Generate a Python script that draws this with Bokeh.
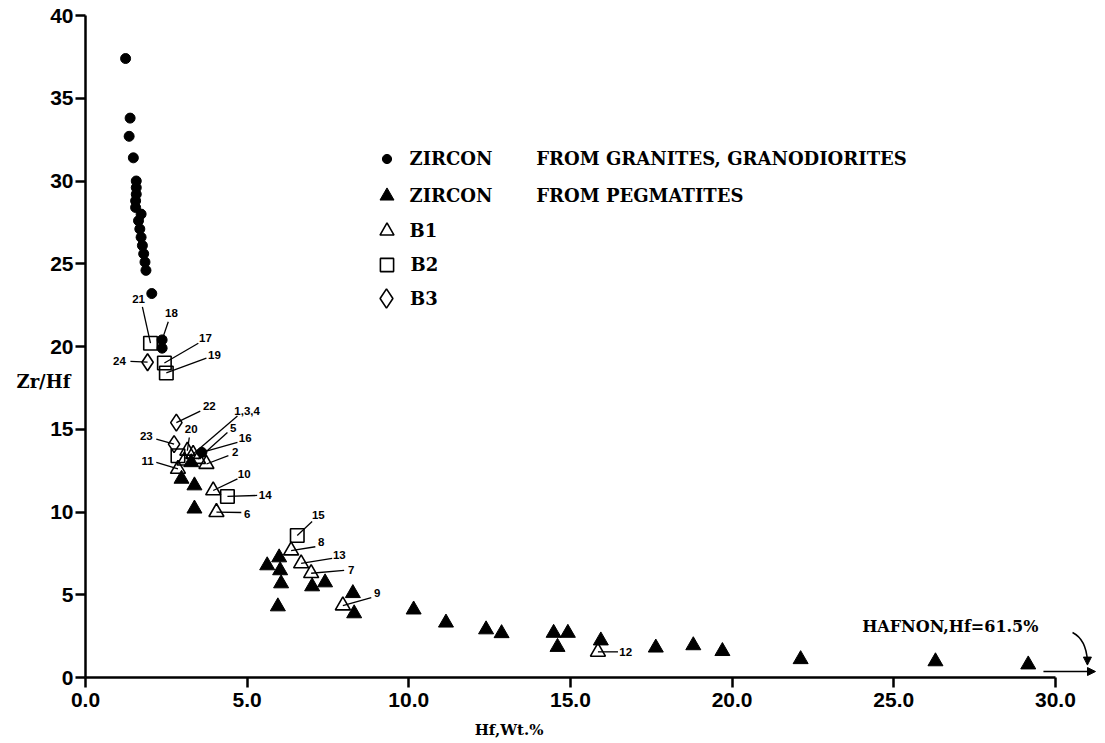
from bokeh.plotting import figure
from bokeh.models import (Range1d, FixedTicker, Label, Legend, LegendItem, Arrow, NormalHead)
from bokeh.core.properties import value
from bokeh.embed import file_html
from bokeh.resources import INLINE

# ---------------- data ----------------
# zircon from granites, granodiorites (filled circles)
gran_hf = [1.24, 1.38, 1.35, 1.48, 1.57, 1.57, 1.57, 1.55, 1.55, 1.72, 1.64, 1.68, 1.72,
           1.76, 1.80, 1.84, 1.87, 2.05, 2.37, 2.37, 3.60]
gran_zrhf = [37.4, 33.8, 32.7, 31.4, 30.0, 29.6, 29.2, 28.8, 28.4, 28.0, 27.6, 27.1, 26.6,
             26.1, 25.6, 25.1, 24.6, 23.2, 20.4, 19.9, 13.6]
gran_id = ["", "", "", "", "", "", "", "", "", "", "", "", "", "", "", "", "", "", "18", "", "16"]

# zircon from pegmatites (filled triangles)
peg_hf = [2.97, 3.37, 3.37, 3.27, 5.99, 5.62, 6.02, 6.05, 5.95, 7.01, 7.41, 8.27, 8.31,
          10.15, 11.15, 12.39, 12.87, 14.48, 14.92, 14.60, 15.94, 17.64, 18.80, 19.70,
          22.12, 26.29, 29.16]
peg_zrhf = [12.0, 11.6, 10.2, 13.0, 7.25, 6.77, 6.47, 5.68, 4.29, 5.50, 5.74, 5.09, 3.87,
            4.10, 3.31, 2.90, 2.67, 2.69, 2.69, 1.84, 2.23, 1.80, 1.94, 1.59,
            1.10, 0.97, 0.78]

# B1 (open triangles)
b1_id = ["1,3,4", "2", "5", "6", "7", "8", "9", "10", "11", "12", "13", "20", ""]
b1_hf = [3.33, 3.74, 3.48, 4.05, 6.98, 6.36, 7.96, 3.95, 2.86, 15.85, 6.67, 3.15, 3.06]
b1_zrhf = [13.5, 12.9, 13.2, 9.99, 6.30, 7.67, 4.35, 11.3, 12.6, 1.55, 6.89, 13.7, 13.1]

# B2 (open squares)
b2_id = ["14", "15", "17", "19", "21", ""]
b2_hf = [4.39, 6.55, 2.44, 2.50, 2.01, 2.86]
b2_zrhf = [10.94, 8.58, 19.0, 18.4, 20.2, 13.4]

# B3 (open diamonds)
b3_id = ["22", "23", "24"]
b3_hf = [2.81, 2.74, 1.92]
b3_zrhf = [15.4, 14.1, 19.05]

# sample number labels: text position and leader start
lab_text = ["18", "21", "17", "19", "24", "22", "1,3,4", "5", "16", "2", "20", "23", "11",
            "10", "14", "6", "15", "8", "13", "7", "9", "12"]
lab_x = [2.66, 1.64, 3.71, 3.99, 1.05, 3.83, 5.00, 4.57, 4.94, 4.63, 3.27, 1.88, 1.92,
         4.91, 5.56, 5.00, 7.20, 7.29, 7.85, 8.22, 9.02, 16.71]
lab_y = [22.0, 22.9, 20.5, 19.5, 19.15, 16.4, 16.1, 15.1, 14.5, 13.65, 15.0, 14.6, 13.1,
         12.3, 11.0, 9.9, 9.8, 8.2, 7.4, 6.5, 5.1, 1.55]
lead_x = [2.56, 1.76, 3.49, 3.74, 1.39, 3.55, 4.70, 4.39, 4.70, 4.42, 3.21, 2.19, 2.19,
          4.70, 5.31, 4.82, 7.01, 7.11, 7.63, 8.00, 8.84, 16.47]
lead_y = [21.5, 22.4, 20.2, 19.3, 19.1, 16.1, 15.8, 14.8, 14.2, 13.4, 14.5, 14.4, 13.0,
          12.0, 11.0, 9.97, 9.43, 7.9, 7.2, 6.47, 4.83, 1.55]

NB = "\u00a0"
legend_labels = ["ZIRCON" + NB * 7 + "FROM GRANITES, GRANODIORITES",
                 "ZIRCON" + NB * 7 + "FROM PEGMATITES",
                 "B1", "B2", "B3"]

x_ticks = [0, 5, 10, 15, 20, 25, 30]
x_tick_labels = ["0.0", "5.0", "10.0", "15.0", "20.0", "25.0", "30.0"]
y_ticks = [0, 5, 10, 15, 20, 25, 30, 35, 40]
y_tick_labels = ["0", "5", "10", "15", "20", "25", "30", "35", "40"]

x_title = "Hf,Wt.%"
y_title = "Zr/Hf"
hafnon_text = "HAFNON,Hf=61.5%"
hafnon_pos = [26.75, 3.1]
curve_arrow = [30.53, 2.72, 30.95, 2.3, 30.99, 1.0]   # x0, y0, cx, cy, x1, y1
flat_arrow = [29.63, 0.36, 31.24, 0.36]               # x0, y0, x1, y1

# ---------------- layout ----------------
W, H = 1100, 740
OX, OY = 85, 677          # pixel position of the data origin
SX, SY = 32.33, 16.55     # pixels per data unit
p = figure(width=W, height=H,
           x_range=Range1d(-OX / SX, (W - OX) / SX),
           y_range=Range1d(-(H - OY) / SY, OY / SY),
           output_backend="svg", toolbar_location=None, min_border=0)
p.grid.visible = False
p.outline_line_color = None
p.background_fill_color = "white"
p.border_fill_color = "white"

for ax, ticks, labels, bounds in ((p.xaxis, x_ticks, x_tick_labels, (0, 30)),
                                  (p.yaxis, y_ticks, y_tick_labels, (0, 40))):
    ax.fixed_location = 0
    ax.ticker = FixedTicker(ticks=ticks)
    ax.major_label_overrides = {t: l for t, l in zip(ticks, labels)}
    ax.bounds = bounds
    ax.axis_line_width = 2.5
    ax.axis_line_color = "black"
    ax.major_tick_line_width = 2.5
    ax.major_tick_line_color = "black"
    ax.major_tick_out = 10
    ax.major_tick_in = 0
    ax.minor_tick_line_color = None
    ax.major_label_text_font = "Liberation Sans"
    ax.major_label_text_font_style = "bold"
    ax.major_label_text_font_size = "21px"
    ax.major_label_text_color = "black"
p.xaxis.major_label_standoff = 5
p.yaxis.major_label_standoff = 2

# leader lines from labels to samples
pts = {}
for ids, xs, ys in ((gran_id, gran_hf, gran_zrhf), (b1_id, b1_hf, b1_zrhf),
                    (b2_id, b2_hf, b2_zrhf), (b3_id, b3_hf, b3_zrhf)):
    for i, x, y in zip(ids, xs, ys):
        if i:
            pts[i] = (x, y)
tx = [pts[t][0] for t in lab_text]
ty = [pts[t][1] for t in lab_text]
p.segment(x0=lead_x, y0=lead_y, x1=tx, y1=ty, line_color="black", line_width=1.3)

r_gran = p.scatter(gran_hf, gran_zrhf, marker="circle", size=10, fill_color="black", line_color="black")
r_peg = p.scatter(peg_hf, peg_zrhf, marker="triangle", size=15, fill_color="black", line_color="black")
r_b1 = p.scatter(b1_hf, b1_zrhf, marker="triangle", size=15, fill_color=None, line_color="black", line_width=1.6)
r_b2 = p.scatter(b2_hf, b2_zrhf, marker="square", size=13.5, fill_color=None, line_color="black", line_width=1.6)
r_b3 = p.scatter(b3_hf, b3_zrhf, marker="diamond", size=17, fill_color=None, line_color="black", line_width=1.6)

p.text(x=lab_x, y=lab_y, text=lab_text, text_align="center", text_baseline="middle",
       text_font=value("Liberation Sans"), text_font_style="bold", text_font_size="11.5px",
       text_color="black")

# legend: one block per entry so each symbol keeps its own size
rows_y = [158, 195, 230, 264, 298]
glyph_box = [23, 35, 35, 33, 48]
for rend, lab, yc, G in zip([r_gran, r_peg, r_b1, r_b2, r_b3], legend_labels, rows_y, glyph_box):
    leg = Legend(items=[LegendItem(label=lab, renderers=[rend])],
                 location=(386 - G / 2, H - (yc + G / 2)),
                 glyph_width=G, glyph_height=G, label_standoff=max(0, round(24 - G / 2)),
                 label_height=1, padding=0, margin=0, spacing=0,
                 border_line_color=None, background_fill_alpha=0,
                 label_text_font="DejaVu Serif", label_text_font_style="bold",
                 label_text_font_size="18px", label_text_color="black")
    p.add_layout(leg)

# axis titles
p.add_layout(Label(x=-1.30, y=17.9, text=y_title, text_align="center", text_baseline="middle",
                   text_font="DejaVu Serif", text_font_style="bold", text_font_size="18px",
                   text_color="black"))
p.add_layout(Label(x=13.1, y=-3.15, text=x_title, text_align="center", text_baseline="middle",
                   text_font="DejaVu Serif", text_font_style="bold", text_font_size="15px",
                   text_color="black"))

# hafnon annotation
p.add_layout(Label(x=hafnon_pos[0], y=hafnon_pos[1], text=hafnon_text, text_align="center",
                   text_baseline="middle", text_font="DejaVu Serif", text_font_style="bold",
                   text_font_size="16px", text_color="black"))
p.quadratic(x0=[curve_arrow[0]], y0=[curve_arrow[1]], cx=[curve_arrow[2]], cy=[curve_arrow[3]],
            x1=[curve_arrow[4]], y1=[curve_arrow[5]], line_color="black", line_width=1.5)
p.add_layout(Arrow(end=NormalHead(size=8, fill_color="black", line_color="black"),
                   x_start=curve_arrow[4], y_start=curve_arrow[5] + 0.1,
                   x_end=curve_arrow[4], y_end=curve_arrow[5] - 0.25,
                   line_color="black", line_width=1.5))
p.add_layout(Arrow(end=NormalHead(size=8, fill_color="black", line_color="black"),
                   x_start=flat_arrow[0], y_start=flat_arrow[1],
                   x_end=flat_arrow[2], y_end=flat_arrow[3],
                   line_color="black", line_width=1.5))

open("out.html", "w").write(file_html(p, INLINE))
